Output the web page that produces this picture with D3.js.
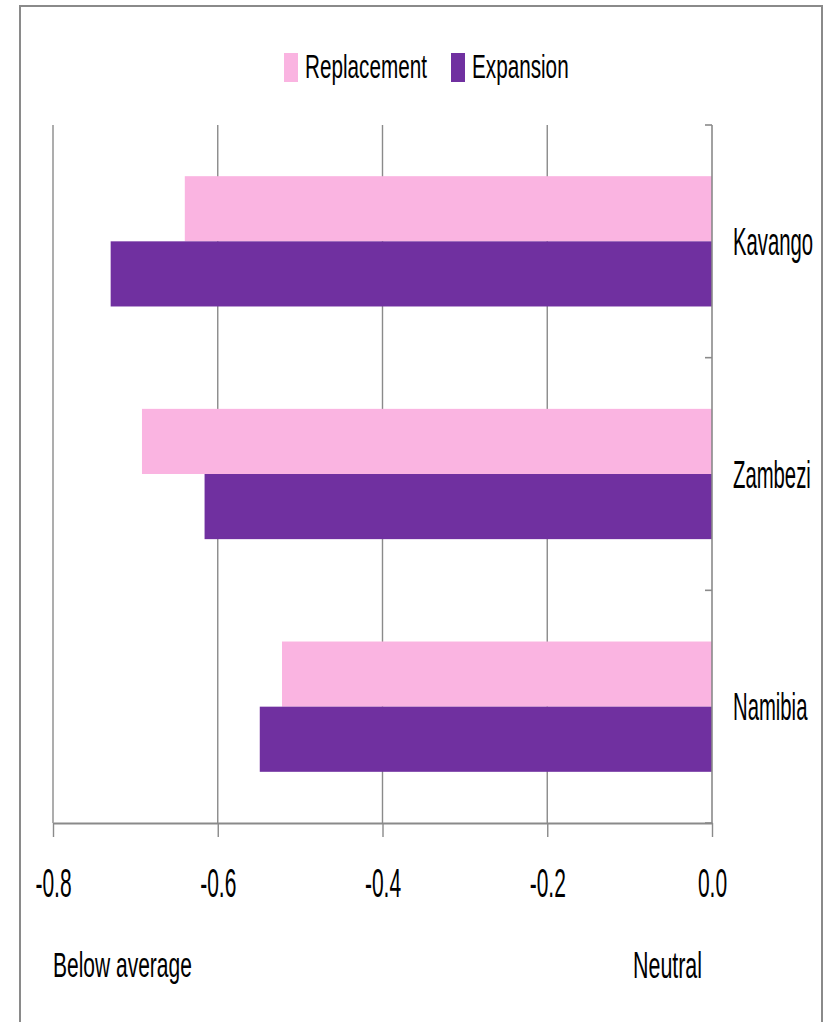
<!DOCTYPE html>
<html>
<head>
<meta charset="utf-8">
<script src="https://cdn.jsdelivr.net/npm/d3@7"></script>
<style>
  html, body { margin: 0; padding: 0; background: #ffffff; }
  svg { display: block; }
  text { font-family: "Liberation Sans", Arial, sans-serif; fill: #000; }
</style>
</head>
<body>
<svg id="chart" width="823" height="1022"></svg>
<script>
// Regions and index values per scenario
const categories = ["Kavango", "Zambezi", "Namibia"];
const seriesNames = ["Replacement", "Expansion"];
const replacement = [-0.64, -0.692, -0.522];
const expansion = [-0.73, -0.616, -0.549];
const xTicks = [-0.8, -0.6, -0.4, -0.2, 0.0];
const xTickLabels = ["-0.8", "-0.6", "-0.4", "-0.2", "0.0"];
const colors = ["#FAB4E1", "#7030A0"];

const seriesValues = [replacement, expansion];
const rows = categories.map((c, i) => ({
  category: c,
  values: seriesNames.map((s, j) => ({ series: s, value: seriesValues[j][i] }))
}));

const svg = d3.select("#chart");
const gridColor = "#8a8a8a";

// outer frame
svg.append("rect")
  .attr("x", 20).attr("y", 6).attr("width", 802).attr("height", 1030)
  .attr("fill", "none").attr("stroke", gridColor).attr("stroke-width", 2);

const plot = { left: 53, right: 712, top: 125, bottom: 823 };

const x = d3.scaleLinear().domain([-0.8, 0]).range([plot.left, plot.right]);
const y = d3.scaleBand().domain(categories)
  .range([plot.top, plot.bottom]).paddingInner(0.44).paddingOuter(0.22);
const ySub = d3.scaleBand().domain(seriesNames).range([0, y.bandwidth()]);
const yEdges = d3.scaleLinear().domain([0, categories.length]).range([plot.top, plot.bottom]);

// vertical gridlines
svg.append("g").selectAll("line")
  .data(xTicks.filter(d => d !== 0))
  .join("line")
  .attr("x1", d => x(d)).attr("x2", d => x(d))
  .attr("y1", plot.top).attr("y2", plot.bottom)
  .attr("stroke", gridColor).attr("stroke-width", 1.4);

// bars
const groups = svg.append("g").selectAll("g")
  .data(rows).join("g")
  .attr("transform", d => `translate(0,${y(d.category)})`);
groups.selectAll("rect")
  .data(d => d.values).join("rect")
  .attr("x", d => x(Math.min(0, d.value)))
  .attr("width", d => Math.abs(x(d.value) - x(0)))
  .attr("y", d => ySub(d.series))
  .attr("height", ySub.bandwidth())
  .attr("fill", (d, i) => colors[i]);

// x axis
const xAxis = svg.append("g")
  .attr("transform", `translate(0,${plot.bottom})`)
  .call(d3.axisBottom(x).tickValues(xTicks)
    .tickFormat((d, i) => xTickLabels[i]).tickSize(14).tickSizeOuter(0));
xAxis.select(".domain").attr("stroke", gridColor).attr("stroke-width", 2.2);
xAxis.selectAll(".tick line").attr("stroke", gridColor).attr("stroke-width", 1.4);
xAxis.selectAll(".tick text")
  .attr("y", 0).attr("dy", 0)
  .attr("font-size", 21)
  .attr("font-family", "Liberation Sans, Arial, sans-serif")
  .attr("fill", "#000")
  .attr("transform", "translate(0,74) scale(1,1.93)");

// y axis on the zero line, with ticks between categories
svg.append("line")
  .attr("x1", x(0)).attr("x2", x(0))
  .attr("y1", plot.top).attr("y2", plot.bottom)
  .attr("stroke", gridColor).attr("stroke-width", 1.6);
svg.append("g").selectAll("line")
  .data(d3.range(categories.length + 1))
  .join("line")
  .attr("x1", x(0) - 7).attr("x2", x(0))
  .attr("y1", d => yEdges(d)).attr("y2", d => yEdges(d))
  .attr("stroke", gridColor).attr("stroke-width", 1.6);

// category labels
svg.append("g").selectAll("text")
  .data(categories).join("text")
  .attr("transform", d => `translate(733,${y(d) + y.bandwidth() / 2 + 13.5}) scale(1,1.95)`)
  .attr("font-size", 20.3)
  .text(d => d);

// legend
const legendX = [284, 451];
const legend = svg.append("g").selectAll("g")
  .data(seriesNames).join("g")
  .attr("transform", (d, i) => `translate(${legendX[i]},0)`);
legend.append("rect")
  .attr("x", 0).attr("y", 53).attr("width", 14).attr("height", 29)
  .attr("fill", (d, i) => colors[i]);
legend.append("text")
  .attr("transform", "translate(21,77.7) scale(1.02,1.65)")
  .attr("font-size", 20.3)
  .text(d => d);

// scale annotations under the axis
svg.append("text")
  .attr("transform", "translate(53,976.7) scale(1,1.66)")
  .attr("font-size", 21)
  .text("Below average");
svg.append("text")
  .attr("transform", "translate(633,978) scale(1.02,1.72)")
  .attr("font-size", 21)
  .text("Neutral");
</script>
</body>
</html>
